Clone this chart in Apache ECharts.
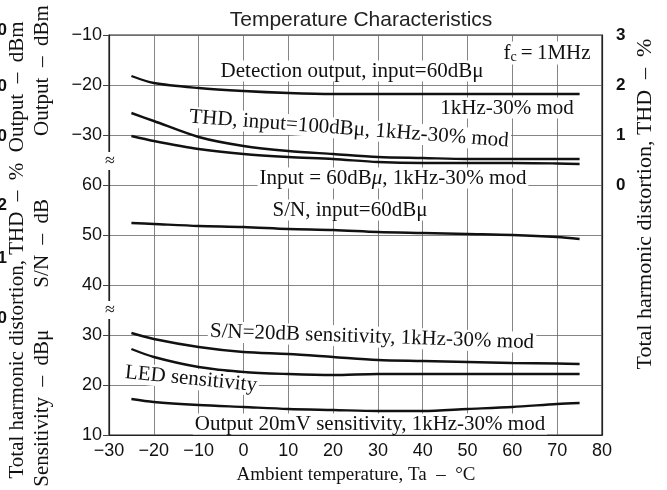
<!DOCTYPE html>
<html>
<head>
<meta charset="utf-8">
<script src="https://cdn.jsdelivr.net/npm/echarts@6/dist/echarts.min.js"></script>
<style>
  html, body { margin: 0; padding: 0; background: #fff; }
  #chart { width: 667px; height: 490px; }
</style>
</head>
<body>
<div id="chart"></div>
<script>
// ambient temperature, °C
const temps = [-25, -20, -10, 0, 10, 20, 30, 40, 50, 60, 70, 75]

// output, dBm (hidden axis -90..-10 so that -30..-10 sits on the top three rows)
const detectionOut = [-18.2, -19.6, -20.6, -21.2, -21.6, -21.8, -21.8, -21.8, -21.8, -21.8, -21.8, -21.8]
// THD, % (right axis)
const thd100 = [1.44, 1.28, 0.96, 0.78, 0.68, 0.62, 0.56, 0.54, 0.52, 0.52, 0.52, 0.52]
const thd60 = [0.98, 0.88, 0.72, 0.62, 0.56, 0.52, 0.46, 0.44, 0.44, 0.44, 0.43, 0.42]
// S/N, dB
const snRatio = [52.4, 52.2, 51.8, 51.6, 51.2, 51.0, 50.6, 50.4, 50.2, 50.0, 49.6, 49.2]
// sensitivity, dBμ
const sens20dB = [30.4, 29.2, 27.6, 26.6, 26.2, 25.6, 25.0, 24.8, 24.6, 24.4, 24.3, 24.2]
const ledSens = [27.2, 25.6, 23.6, 22.6, 22.2, 22.0, 22.2, 22.2, 22.2, 22.2, 22.2, 22.2]
const out20mV = [17.2, 16.6, 16.0, 15.6, 15.2, 15.0, 14.8, 14.8, 15.2, 15.6, 16.2, 16.4]

// left axis tick labels, bottom to top (10..90 on the real scale)
const leftTicks = ['10', '20', '30', '40', '50', '60', '\u221230', '\u221220', '\u221210']
const rightTicks = ['0', '1', '2', '3']
const clippedDigits = ['0', '0', '0', '2', '1', '0']

const SERIF = '"Liberation Serif", "DejaVu Serif", serif'
const SANS = '"Liberation Sans", Arial, sans-serif'

const pairs = (vals) => temps.map((t, i) => [t, vals[i]])

function curve(name, vals, yAxisIndex) {
  return {
    name: name,
    type: 'line',
    yAxisIndex: yAxisIndex,
    smooth: 0.3,
    symbol: 'none',
    data: pairs(vals),
    lineStyle: { color: '#111', width: 2.4 },
    z: 3
  }
}

function label(text, x, y, opts) {
  return Object.assign({
    type: 'text',
    x: x,
    y: y,
    z: 10,
    style: {
      text: text,
      font: '21px ' + SERIF,
      fill: '#111',
      align: 'center',
      verticalAlign: 'middle',
      backgroundColor: '#fff',
      padding: [0, 2]
    }
  }, opts || {})
}

function vtext(text, x, y, size) {
  return {
    type: 'text', x: x, y: y, rotation: Math.PI / 2,
    style: { text: text, font: size + 'px ' + SERIF, fill: '#111', align: 'center', verticalAlign: 'middle' }
  }
}

const chart = echarts.init(document.getElementById('chart'))

const option = {
  animation: false,
  backgroundColor: '#fff',
  title: {
    text: 'Temperature Characteristics',
    left: 356,
    top: 5,
    textAlign: 'center',
    textStyle: { fontFamily: SANS, fontSize: 21, fontWeight: 'normal', color: '#222' }
  },
  grid: {
    left: 109,
    right: 65,
    top: 35,
    bottom: 55,
    show: true,
    borderColor: '#222',
    borderWidth: 1.2
  },
  xAxis: {
    type: 'value',
    min: -30,
    max: 80,
    interval: 10,
    axisLine: { onZero: false, lineStyle: { color: '#222', width: 1.2 } },
    axisTick: { show: false },
    axisLabel: {
      fontFamily: SANS,
      fontSize: 18,
      color: '#111',
      margin: 7,
      formatter: (v) => (v < 0 ? '\u2212' + Math.abs(v) : String(v))
    },
    splitLine: { lineStyle: { color: '#666', width: 0.8 } }
  },
  yAxis: [{
    type: 'value',
    min: 10,
    max: 90,
    interval: 10,
    axisLine: { show: true, onZero: false, lineStyle: { color: '#222', width: 1.2 } },
    axisTick: { show: true, length: 6, lineStyle: { color: '#444' } },
    axisLabel: {
      fontFamily: SANS,
      fontSize: 18,
      color: '#111',
      margin: 7,
      formatter: (v) => leftTicks[Math.round((v - 10) / 10)]
    },
    splitLine: { lineStyle: { color: '#666', width: 0.8 } }
  }, {
    type: 'value',
    position: 'right',
    min: -5,
    max: 3,
    interval: 1,
    axisLine: { show: true, onZero: false, lineStyle: { color: '#222', width: 1.2 } },
    axisTick: { show: false },
    axisLabel: {
      fontFamily: SANS,
      fontSize: 17,
      fontWeight: 'bold',
      color: '#111',
      margin: 14,
      formatter: (v) => (v >= 0 ? rightTicks[v] : '')
    },
    splitLine: { show: false }
  }, {
    // dBm output scale, shares the grid with the left axis
    type: 'value',
    min: -90,
    max: -10,
    show: false
  }],
  series: [
    curve('Detection output', detectionOut, 2),
    curve('THD 100dBμ', thd100, 1),
    curve('THD 60dBμ', thd60, 1),
    curve('S/N', snRatio, 0),
    curve('S/N=20dB sensitivity', sens20dB, 0),
    curve('LED sensitivity', ledSens, 0),
    curve('Output 20mV sensitivity', out20mV, 0)
  ],
  graphic: [
    // texts inside the plot
    label('', 547, 53, {
      style: {
        text: '{f|f}{s|c}{f|\u2009=\u20091MHz}',
        rich: {
          f: { font: '21px ' + SERIF, fill: '#111' },
          s: { font: '14px ' + SERIF, fill: '#111', verticalAlign: 'bottom', padding: [9, 0, 0, 0] }
        },
        align: 'center',
        verticalAlign: 'middle',
        backgroundColor: '#fff',
        padding: [0, 2]
      }
    }),
    label('Detection output, input=60dBμ', 352, 71),
    label('1kHz-30% mod', 507, 108),
    label('THD, input=100dBμ, 1kHz-30% mod', 349, 129, { rotation: -0.075 }),
    label('', 393, 178, {
      style: {
        text: '{n|Input = 60dB}{i|μ}{n|, 1kHz-30% mod}',
        rich: {
          n: { font: '21px ' + SERIF, fill: '#111' },
          i: { font: 'italic 21px ' + SERIF, fill: '#111' }
        },
        align: 'center',
        verticalAlign: 'middle',
        backgroundColor: '#fff',
        padding: [0, 2]
      }
    }),
    label('S/N, input=60dBμ', 350, 210),
    label('S/N=20dB sensitivity, 1kHz-30% mod', 372, 337, { rotation: -0.035 }),
    label('LED sensitivity', 191, 379, { rotation: -0.1 }),
    label('Output 20mV sensitivity, 1kHz-30% mod', 370, 424),
    // axis breaks
    label('\u2248', 110, 161, { style: { text: '\u2248', font: '18px ' + SERIF, fill: '#111', align: 'center', verticalAlign: 'middle', backgroundColor: '#fff' } }),
    label('\u2248', 110, 310, { style: { text: '\u2248', font: '18px ' + SERIF, fill: '#111', align: 'center', verticalAlign: 'middle', backgroundColor: '#fff' } }),
    // axis titles
    {
      type: 'text', x: 356, y: 475,
      style: { text: 'Ambient temperature, Ta  \u2013  °C', font: '19px ' + SERIF, fill: '#111', align: 'center', verticalAlign: 'middle' }
    },
    vtext('Total harmonic distortion, THD  \u2013  %', 645, 204, 22),
    vtext('Total harmonic distortion, THD  \u2013  %  Output  \u2013  dBm', 17, 250, 21),
    vtext('Sensitivity  \u2013  dBμ        S/N  \u2013  dB            Output  \u2013  dBm', 42, 246, 21)
  ].concat(clippedDigits.map((d, i) => ({
    // digits cut off at the left edge of the scan
    type: 'text',
    x: 7,
    y: [30, 86, 136, 205, 258, 318][i],
    style: { text: d, font: 'bold 17px ' + SANS, fill: '#111', align: 'right', verticalAlign: 'middle' }
  })))
}

chart.setOption(option)
</script>
</body>
</html>
